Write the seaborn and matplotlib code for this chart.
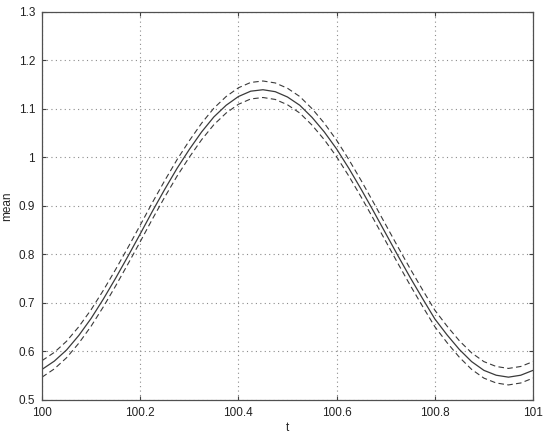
import matplotlib
matplotlib.use("Agg")
import matplotlib.pyplot as plt
import seaborn as sns
import pandas as pd

# Values
t = [100.000, 100.025, 100.050, 100.075, 100.100, 100.125, 100.150, 100.175,
     100.200, 100.225, 100.250, 100.275, 100.300, 100.325, 100.350, 100.375,
     100.400, 100.425, 100.450, 100.475, 100.500, 100.525, 100.550, 100.575,
     100.600, 100.625, 100.650, 100.675, 100.700, 100.725, 100.750, 100.775,
     100.800, 100.825, 100.850, 100.875, 100.900, 100.925, 100.950, 100.975,
     101.000]
mean = [0.563, 0.580, 0.603, 0.633, 0.668, 0.708, 0.751, 0.796,
        0.842, 0.889, 0.934, 0.977, 1.016, 1.052, 1.083, 1.107,
        1.125, 1.136, 1.139, 1.135, 1.124, 1.107, 1.082, 1.052,
        1.017, 0.977, 0.934, 0.889, 0.843, 0.797, 0.752, 0.709,
        0.667, 0.634, 0.604, 0.579, 0.561, 0.551, 0.547, 0.551,
        0.561]
upper = [0.581, 0.598, 0.621, 0.651, 0.686, 0.726, 0.769, 0.814,
         0.860, 0.907, 0.952, 0.995, 1.034, 1.070, 1.101, 1.125,
         1.143, 1.154, 1.157, 1.153, 1.142, 1.125, 1.100, 1.070,
         1.035, 0.995, 0.952, 0.907, 0.861, 0.815, 0.770, 0.727,
         0.685, 0.652, 0.622, 0.597, 0.579, 0.569, 0.565, 0.569,
         0.579]
lower = [0.547, 0.564, 0.587, 0.617, 0.652, 0.692, 0.735, 0.780,
         0.826, 0.873, 0.918, 0.961, 1.000, 1.036, 1.067, 1.091,
         1.109, 1.120, 1.123, 1.119, 1.108, 1.091, 1.066, 1.036,
         1.001, 0.961, 0.918, 0.873, 0.827, 0.781, 0.736, 0.693,
         0.651, 0.618, 0.588, 0.563, 0.545, 0.535, 0.531, 0.535,
         0.545]

xticks = [100, 100.2, 100.4, 100.6, 100.8, 101]
xticklabels = ['100', '100.2', '100.4', '100.6', '100.8', '101']
yticks = [0.5, 0.6, 0.7, 0.8, 0.9, 1.0, 1.1, 1.2, 1.3]
yticklabels = ['0.5', '0.6', '0.7', '0.8', '0.9', '1', '1.1', '1.2', '1.3']

df = pd.DataFrame({'t': t, 'mean': mean, 'upper': upper, 'lower': lower})

sns.set_style("white")
plt.rcParams['font.family'] = ['Liberation Sans', 'DejaVu Sans']

fig = plt.figure(figsize=(5.5, 4.38), dpi=100)
ax = fig.add_axes([0.0764, 0.0868, 0.8927, 0.8868])

line_col = '#3a3a3a'
sns.lineplot(data=df, x='t', y='mean', ax=ax, color=line_col, linewidth=0.9)
sns.lineplot(data=df, x='t', y='upper', ax=ax, color=line_col, linewidth=0.8,
             linestyle=(0, (5, 3)))
sns.lineplot(data=df, x='t', y='lower', ax=ax, color=line_col, linewidth=0.8,
             linestyle=(0, (5, 3)))

ax.set_xlim(100, 101)
ax.set_ylim(0.5, 1.3)
ax.set_xticks(xticks)
ax.set_xticklabels(xticklabels)
ax.set_yticks(yticks)
ax.set_yticklabels(yticklabels)
ax.grid(True, linestyle=(0, (1, 3)), color='#8c8c8c', linewidth=0.8)
ax.tick_params(direction='in', length=3, width=0.8, colors='#404040',
               labelcolor='#222222', labelsize=8.5, top=True, right=True,
               bottom=True, left=True, pad=5)
for s in ax.spines.values():
    s.set_color('#505050')
    s.set_linewidth(0.9)

ax.set_xlabel('t', fontsize=8.5, labelpad=2)
ax.set_ylabel('mean', fontsize=8.5, labelpad=4)

fig.savefig('out.png', dpi=100)
